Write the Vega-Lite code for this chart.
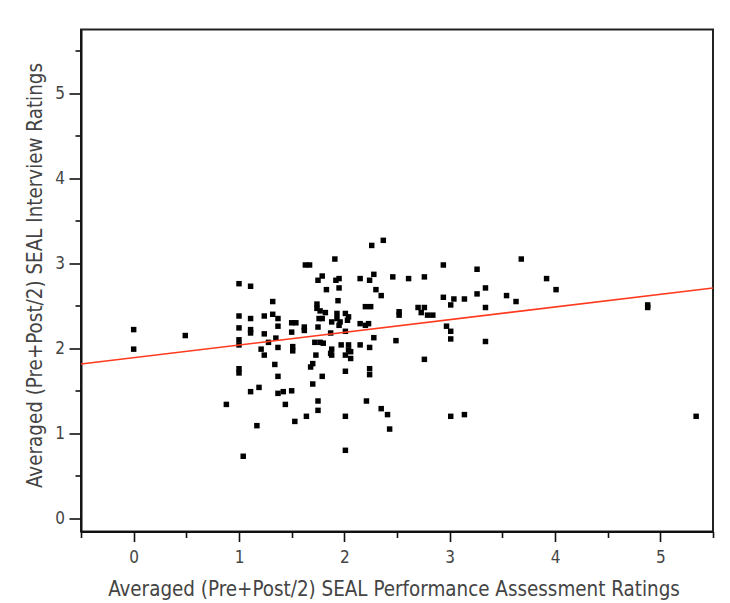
{
  "$schema": "https://vega.github.io/schema/vega-lite/v6.json",
  "width": 632,
  "height": 502,
  "autosize": "none",
  "padding": {"left": 81, "top": 29.5, "right": 17, "bottom": 71.5},
  "background": "white",
  "config": {
    "view": {"stroke": "#222", "strokeWidth": 2},
    "axis": {
      "domainColor": "#111",
      "domainWidth": 2,
      "tickColor": "#111",
      "tickWidth": 1.6,
      "grid": false,
      "labelFont": "DejaVu Sans Condensed",
      "labelFontSize": 17,
      "labelColor": "#444",
      "titleFont": "DejaVu Sans Condensed",
      "titleFontSize": 20.4,
      "titleFontWeight": "normal",
      "titleColor": "#444"
    }
  },
  "datasets": {
    "pts": [
      {"pa": 0, "iv": 2.22}, {"pa": 0, "iv": 1.99}, {"pa": 0.49, "iv": 2.15},
      {"pa": 0.88, "iv": 1.34},
      {"pa": 1.0, "iv": 2.76}, {"pa": 1.0, "iv": 2.38}, {"pa": 1.0, "iv": 2.24}, {"pa": 1.0, "iv": 2.10}, {"pa": 1.0, "iv": 2.04}, {"pa": 1.0, "iv": 1.76}, {"pa": 1.0, "iv": 1.71},
      {"pa": 1.04, "iv": 0.73},
      {"pa": 1.11, "iv": 2.73}, {"pa": 1.11, "iv": 2.35}, {"pa": 1.11, "iv": 2.22}, {"pa": 1.11, "iv": 2.18}, {"pa": 1.11, "iv": 1.49},
      {"pa": 1.17, "iv": 1.09}, {"pa": 1.19, "iv": 1.54},
      {"pa": 1.21, "iv": 1.99}, {"pa": 1.24, "iv": 1.92}, {"pa": 1.24, "iv": 2.17}, {"pa": 1.24, "iv": 2.38},
      {"pa": 1.28, "iv": 2.07}, {"pa": 1.32, "iv": 2.55}, {"pa": 1.32, "iv": 2.40}, {"pa": 1.35, "iv": 2.12}, {"pa": 1.34, "iv": 1.81},
      {"pa": 1.37, "iv": 2.35}, {"pa": 1.37, "iv": 2.26}, {"pa": 1.37, "iv": 2.01}, {"pa": 1.37, "iv": 1.67}, {"pa": 1.37, "iv": 1.47},
      {"pa": 1.42, "iv": 1.49}, {"pa": 1.44, "iv": 1.34},
      {"pa": 1.50, "iv": 2.30}, {"pa": 1.54, "iv": 2.30}, {"pa": 1.50, "iv": 2.19}, {"pa": 1.51, "iv": 2.02}, {"pa": 1.51, "iv": 1.97}, {"pa": 1.50, "iv": 1.50},
      {"pa": 1.53, "iv": 1.14},
      {"pa": 1.62, "iv": 2.25}, {"pa": 1.62, "iv": 2.21},
      {"pa": 1.63, "iv": 2.98}, {"pa": 1.67, "iv": 2.98},
      {"pa": 1.64, "iv": 1.20},
      {"pa": 1.68, "iv": 1.78}, {"pa": 1.70, "iv": 1.82}, {"pa": 1.70, "iv": 1.58},
      {"pa": 1.72, "iv": 2.07}, {"pa": 1.77, "iv": 2.07}, {"pa": 1.80, "iv": 2.06},
      {"pa": 1.73, "iv": 1.92},
      {"pa": 1.74, "iv": 2.52}, {"pa": 1.74, "iv": 2.47}, {"pa": 1.77, "iv": 2.44}, {"pa": 1.82, "iv": 2.42},
      {"pa": 1.76, "iv": 2.35}, {"pa": 1.79, "iv": 2.35},
      {"pa": 1.75, "iv": 2.25},
      {"pa": 1.75, "iv": 2.80}, {"pa": 1.79, "iv": 2.85},
      {"pa": 1.75, "iv": 1.38}, {"pa": 1.75, "iv": 1.27},
      {"pa": 1.79, "iv": 1.67},
      {"pa": 1.83, "iv": 2.69},
      {"pa": 1.87, "iv": 2.18},
      {"pa": 1.88, "iv": 2.31}, {"pa": 1.95, "iv": 2.27},
      {"pa": 1.88, "iv": 1.99}, {"pa": 1.87, "iv": 1.94}, {"pa": 1.88, "iv": 1.92},
      {"pa": 1.91, "iv": 3.05},
      {"pa": 1.92, "iv": 2.80}, {"pa": 1.95, "iv": 2.82}, {"pa": 1.95, "iv": 2.71},
      {"pa": 1.94, "iv": 2.56},
      {"pa": 1.93, "iv": 2.41}, {"pa": 1.93, "iv": 2.35}, {"pa": 2.01, "iv": 2.41}, {"pa": 2.04, "iv": 2.37}, {"pa": 2.03, "iv": 2.33}, {"pa": 1.96, "iv": 2.31},
      {"pa": 1.97, "iv": 2.04},
      {"pa": 2.01, "iv": 2.20},
      {"pa": 2.04, "iv": 2.04}, {"pa": 2.04, "iv": 1.98}, {"pa": 2.06, "iv": 1.96}, {"pa": 2.01, "iv": 1.92}, {"pa": 2.06, "iv": 1.88},
      {"pa": 2.01, "iv": 1.73}, {"pa": 2.01, "iv": 1.20}, {"pa": 2.01, "iv": 0.80},
      {"pa": 2.15, "iv": 2.82}, {"pa": 2.24, "iv": 2.80}, {"pa": 2.28, "iv": 2.87},
      {"pa": 2.26, "iv": 3.21}, {"pa": 2.37, "iv": 3.27},
      {"pa": 2.30, "iv": 2.69}, {"pa": 2.35, "iv": 2.62},
      {"pa": 2.20, "iv": 2.49}, {"pa": 2.25, "iv": 2.49},
      {"pa": 2.15, "iv": 2.29}, {"pa": 2.20, "iv": 2.27}, {"pa": 2.23, "iv": 2.29},
      {"pa": 2.28, "iv": 2.125},
      {"pa": 2.15, "iv": 2.04}, {"pa": 2.24, "iv": 2.01},
      {"pa": 2.24, "iv": 1.76}, {"pa": 2.24, "iv": 1.69},
      {"pa": 2.21, "iv": 1.38},
      {"pa": 2.35, "iv": 1.29}, {"pa": 2.41, "iv": 1.22}, {"pa": 2.43, "iv": 1.05},
      {"pa": 2.46, "iv": 2.84},
      {"pa": 2.49, "iv": 2.09},
      {"pa": 2.52, "iv": 2.43}, {"pa": 2.52, "iv": 2.39},
      {"pa": 2.61, "iv": 2.82}, {"pa": 2.76, "iv": 2.84},
      {"pa": 2.70, "iv": 2.48}, {"pa": 2.76, "iv": 2.48}, {"pa": 2.73, "iv": 2.42}, {"pa": 2.79, "iv": 2.39}, {"pa": 2.84, "iv": 2.39},
      {"pa": 2.76, "iv": 1.87},
      {"pa": 2.94, "iv": 2.98}, {"pa": 2.94, "iv": 2.60},
      {"pa": 2.97, "iv": 2.26}, {"pa": 3.01, "iv": 2.20}, {"pa": 3.01, "iv": 2.11},
      {"pa": 3.01, "iv": 2.51},
      {"pa": 3.01, "iv": 1.20},
      {"pa": 3.04, "iv": 2.58}, {"pa": 3.14, "iv": 2.58},
      {"pa": 3.14, "iv": 1.22},
      {"pa": 3.26, "iv": 2.93}, {"pa": 3.26, "iv": 2.64},
      {"pa": 3.34, "iv": 2.71}, {"pa": 3.34, "iv": 2.48}, {"pa": 3.34, "iv": 2.08},
      {"pa": 3.54, "iv": 2.62}, {"pa": 3.63, "iv": 2.55},
      {"pa": 3.68, "iv": 3.05},
      {"pa": 3.92, "iv": 2.82}, {"pa": 4.01, "iv": 2.69},
      {"pa": 4.88, "iv": 2.51}, {"pa": 4.88, "iv": 2.48},
      {"pa": 5.34, "iv": 1.20}
    ],
    "fit": [
      {"pa": -0.5, "iv": 1.815},
      {"pa": 5.5, "iv": 2.71}
    ]
  },
  "encoding": {
    "x": {
      "field": "pa", "type": "quantitative",
      "scale": {"domain": [-0.5, 5.5], "nice": false, "zero": false},
      "axis": {
        "title": "Averaged (Pre+Post/2) SEAL Performance Assessment Ratings",
        "values": [-0.5, 0, 0.5, 1, 1.5, 2, 2.5, 3, 3.5, 4, 4.5, 5, 5.5],
        "labelExpr": "datum.value % 1 === 0 ? format(datum.value, 'd') : ''",
        "tickSize": {"condition": {"test": "datum.value % 1 === 0", "value": 10}, "value": 6},
        "labelPadding": 7.5,
        "titleX": 312.5,
        "titleY": 63.5,
        "titleBaseline": "alphabetic",
        "labelFlush": false
      }
    },
    "y": {
      "field": "iv", "type": "quantitative",
      "scale": {"domain": [-0.155, 5.75], "nice": false, "zero": false},
      "axis": {
        "title": "Averaged (Pre+Post/2) SEAL Interview Ratings",
        "values": [0, 0.5, 1, 1.5, 2, 2.5, 3, 3.5, 4, 4.5, 5, 5.5],
        "labelExpr": "datum.value % 1 === 0 ? format(datum.value, 'd') : ''",
        "tickSize": {"condition": {"test": "datum.value % 1 === 0", "value": 12}, "value": 6},
        "labelPadding": 4.5,
        "titleX": -39.3,
        "titleY": 245.5,
        "titleBaseline": "alphabetic",
        "labelFlush": false
      }
    }
  },
  "layer": [
    {
      "data": {"name": "pts"},
      "mark": {"type": "point", "shape": "square", "filled": true, "color": "#000", "size": 30, "opacity": 1}
    },
    {
      "data": {"name": "fit"},
      "mark": {"type": "line", "color": "#ff3a1e", "strokeWidth": 1.6}
    }
  ]
}
